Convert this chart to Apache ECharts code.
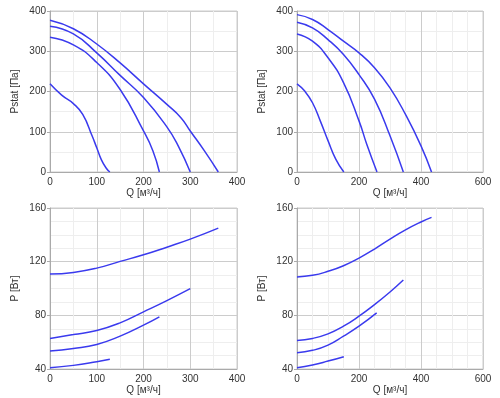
<!DOCTYPE html>
<html lang="ru">
<head>
    <meta charset="UTF-8"/>
    <title>Характеристики</title>
    <script src="https://cdn.jsdelivr.net/npm/echarts@6/dist/echarts.min.js"></script>
    <style>
        html, body { margin: 0; padding: 0; background: #fff; }
        #main { width: 500px; height: 398px; }
    </style>
</head>
<body>
<div id="main"></div>
<script>
    // ---- статическое давление, левый вентилятор (Q м3/ч, P Па)
    var q1a = [0, 50, 100, 150, 200, 250, 280, 300, 330, 360];
    var p1a = [377, 356, 318, 271, 219, 168, 135, 102, 53, 0];
    var q1b = [0, 50, 100, 150, 200, 250, 275, 300];
    var p1b = [362, 343, 296, 240, 185, 112, 63, 0];
    var q1c = [0, 50, 100, 150, 200, 220, 234];
    var p1c = [335, 316, 272, 205, 102, 53, 0];
    var q1d = [0, 25, 50, 70, 90, 100, 110, 120, 128];
    var p1d = [219, 191, 170, 143, 90, 60, 30, 10, 0];

    // ---- статическое давление, правый вентилятор
    var q2a = [0, 50, 100, 150, 200, 250, 300, 350, 400, 434];
    var p2a = [391, 379, 354, 325, 296, 259, 209, 143, 65, 0];
    var q2b = [0, 50, 100, 150, 200, 250, 300, 343];
    var p2b = [372, 358, 329, 292, 242, 181, 90, 0];
    var q2c = [0, 50, 100, 150, 200, 225, 258];
    var p2c = [343, 325, 284, 222, 127, 69, 0];
    var q2d = [0, 25, 50, 75, 100, 125, 151];
    var p2d = [219, 201, 172, 127, 78, 32, 0];

    // ---- мощность, левый (Q м3/ч, P Вт)
    var q3a = [0, 50, 100, 150, 200, 250, 300, 360];
    var w3a = [110.8, 112, 115.2, 120.2, 125.1, 130.8, 136.8, 145];
    var q3b = [0, 50, 100, 150, 200, 250, 300];
    var w3b = [62.8, 65.7, 68.7, 74.4, 82.6, 91, 99.9];
    var q3c = [0, 50, 100, 150, 200, 234];
    var w3c = [53.4, 55.3, 58.3, 64.5, 72.7, 78.9];
    var q3d = [0, 50, 100, 128];
    var w3d = [41, 42.7, 45.4, 47.2];

    // ---- мощность, правый
    var q4a = [0, 50, 100, 150, 200, 250, 300, 350, 400, 434];
    var w4a = [108.6, 109.8, 112.8, 117, 122.7, 129.4, 136.8, 143.7, 149.6, 153];
    var q4b = [0, 50, 100, 150, 200, 250, 300, 343];
    var w4b = [61.3, 62.8, 66.2, 71.9, 79.4, 88, 97.4, 106.3];
    var q4c = [0, 50, 100, 150, 200, 257];
    var w4c = [52.1, 53.9, 57.8, 64.5, 71.9, 81.8];
    var q4d = [0, 50, 100, 151];
    var w4d = [41, 43, 45.9, 49.2];

    var xName = 'Q [м³/ч]';
    var yNameStat = 'Pstat [Па]';
    var yNamePow = 'P [Вт]';

    function pairs(xs, ys) {
        var out = [];
        for (var i = 0; i < xs.length; i++) out.push([xs[i], ys[i]]);
        return out;
    }

    var txt = { color: '#333', fontSize: 10, fontFamily: 'Liberation Sans, Arial, sans-serif' };

    function xAx(idx, max, interval, minorN) {
        return {
            type: 'value', gridIndex: idx, min: 0, max: max, interval: interval,
            name: xName, nameLocation: 'middle', nameGap: 15, nameTextStyle: txt,
            axisLine: { show: true, lineStyle: { color: '#aaa' } },
            axisTick: { show: false },
            axisLabel: Object.assign({ margin: 5 }, txt),
            splitLine: { show: true, lineStyle: { color: '#ccc' } },
            minorTick: { show: false, splitNumber: minorN },
            minorSplitLine: { show: true, lineStyle: { color: '#eee' } }
        };
    }
    function yAx(idx, min, max, interval, minorN, name) {
        return {
            type: 'value', gridIndex: idx, min: min, max: max, interval: interval,
            name: name, nameLocation: 'middle', nameGap: 30, nameTextStyle: txt,
            axisLine: { show: true, lineStyle: { color: '#aaa' } },
            axisTick: { show: true, length: 3, lineStyle: { color: '#aaa' } },
            axisLabel: Object.assign({ margin: 4 }, txt),
            splitLine: { show: true, lineStyle: { color: '#ccc' } },
            minorTick: { show: false, splitNumber: minorN },
            minorSplitLine: { show: true, lineStyle: { color: '#eee' } }
        };
    }
    function line(idx, xs, ys) {
        return {
            type: 'line', xAxisIndex: idx, yAxisIndex: idx,
            data: pairs(xs, ys), smooth: 0.5, showSymbol: false, silent: true,
            lineStyle: { color: '#3a3aee', width: 1.5 }
        };
    }

    var chart = echarts.init(document.getElementById('main'), null, { renderer: 'canvas' });
    chart.setOption({
        animation: false,
        grid: [
            { left: 50, top: 11, width: 187, height: 161, show: true, borderColor: '#ccc', borderWidth: 1 },
            { left: 297, top: 11, width: 186, height: 161, show: true, borderColor: '#ccc', borderWidth: 1 },
            { left: 50, top: 208, width: 187, height: 161, show: true, borderColor: '#ccc', borderWidth: 1 },
            { left: 297, top: 208, width: 186, height: 161, show: true, borderColor: '#ccc', borderWidth: 1 }
        ],
        xAxis: [
            xAx(0, 400, 100, 2),
            xAx(1, 600, 200, 4),
            xAx(2, 400, 100, 2),
            xAx(3, 600, 200, 4)
        ],
        yAxis: [
            yAx(0, 0, 400, 100, 2, yNameStat),
            yAx(1, 0, 400, 100, 2, yNameStat),
            yAx(2, 40, 160, 40, 4, yNamePow),
            yAx(3, 40, 160, 40, 4, yNamePow)
        ],
        series: [
            line(0, q1a, p1a), line(0, q1b, p1b), line(0, q1c, p1c), line(0, q1d, p1d),
            line(1, q2a, p2a), line(1, q2b, p2b), line(1, q2c, p2c), line(1, q2d, p2d),
            line(2, q3a, w3a), line(2, q3b, w3b), line(2, q3c, w3c), line(2, q3d, w3d),
            line(3, q4a, w4a), line(3, q4b, w4b), line(3, q4c, w4c), line(3, q4d, w4d)
        ]
    });
</script>
</body>
</html>
